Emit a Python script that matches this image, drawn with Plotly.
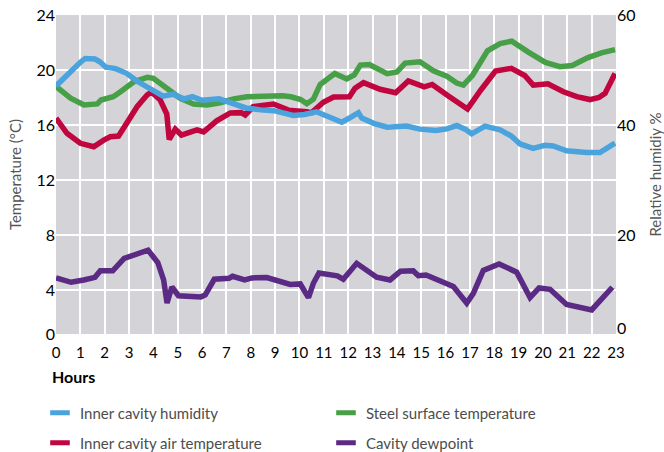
import plotly.graph_objects as go

# ---- Data ----
hum_hours = [0.0, 0.5, 1.0, 1.2, 1.6, 1.8, 2.05, 2.45, 2.9, 3.35, 3.85, 4.4, 4.8, 5.25, 5.6, 6.0,
             6.7, 7.25, 7.8, 8.4, 8.95, 9.75, 10.2, 10.7, 11.25, 11.74, 12.1, 12.42, 12.56, 13.05,
             13.6, 14.15, 14.4, 14.95, 15.6, 16.05, 16.46, 16.8, 17.07, 17.62, 18.24, 18.7, 19.06,
             19.6, 20.08, 20.42, 20.97, 21.79, 22.34, 22.96]
hum_values = [47.1, 49.4, 51.4, 52.1, 52.0, 51.5, 50.5, 50.25, 49.4, 47.9, 46.5, 45.25, 45.6, 44.75,
              45.15, 44.5, 44.75, 43.9, 43.1, 42.75, 42.6, 41.75, 41.9, 42.4, 41.25, 40.5, 41.4, 42.25,
              41.25, 40.3, 39.6, 39.6, 39.8, 39.25, 39.0, 39.3, 39.9, 39.25, 38.4, 39.8, 39.1, 38.0,
              36.55, 35.75, 36.3, 36.2, 35.3, 35.0, 35.0, 36.7]

steel_hours = [0.0, 0.6, 1.15, 1.7, 1.85, 2.35, 2.65, 3.2, 3.75, 4.0, 4.55, 5.1, 5.65, 6.2, 6.75,
               7.3, 7.85, 8.65, 9.3, 9.65, 10.05, 10.3, 10.57, 10.85, 11.45, 11.94, 12.25, 12.5,
               12.87, 13.6, 14.0, 14.34, 14.95, 15.5, 16.05, 16.46, 16.73, 17.1, 17.72, 18.24,
               18.72, 19.4, 20.1, 20.7, 21.2, 21.85, 22.4, 22.96]
steel_values = [18.8, 17.95, 17.45, 17.53, 17.82, 18.06, 18.42, 19.15, 19.47, 19.4, 18.67, 17.94,
                17.53, 17.45, 17.62, 17.9, 18.06, 18.1, 18.12, 18.05, 17.85, 17.55, 17.88, 18.95,
                19.75, 19.35, 19.64, 20.36, 20.4, 19.73, 19.85, 20.5, 20.6, 19.95, 19.55, 19.05,
                18.9, 19.6, 21.4, 21.92, 22.1, 21.3, 20.55, 20.24, 20.33, 20.9, 21.25, 21.48]

air_hours = [0.0, 0.45, 1.0, 1.55, 1.96, 2.23, 2.57, 2.92, 3.33, 3.74, 3.92, 4.28, 4.55, 4.65, 4.9,
             5.15, 5.79, 6.06, 6.6, 7.16, 7.6, 7.77, 8.1, 8.93, 9.55, 10.3, 10.5, 10.98, 11.4,
             12.05, 12.28, 12.63, 13.31, 13.95, 14.47, 15.12, 15.45, 16.1, 16.55, 16.9, 17.45,
             18.05, 18.7, 19.25, 19.6, 20.2, 20.84, 21.39, 21.93, 22.3, 22.55, 22.96]
air_values = [16.5, 15.4, 14.67, 14.42, 14.9, 15.15, 15.2, 16.12, 17.33, 18.18, 18.4, 17.82, 16.8,
              14.95, 15.7, 15.27, 15.64, 15.5, 16.3, 16.88, 16.9, 16.73, 17.33, 17.53, 17.08,
              16.97, 16.9, 17.65, 18.03, 18.06, 18.67, 19.08, 18.6, 18.35, 19.2, 18.77, 18.95,
              18.12, 17.65, 17.17, 18.55, 19.92, 20.12, 19.6, 18.9, 19.0, 18.42, 18.06, 17.85,
              18.0, 18.3, 19.74]

dew_hours = [0.0, 0.62, 1.14, 1.6, 1.82, 2.33, 2.8, 3.22, 3.78, 4.18, 4.42, 4.56, 4.76, 5.03,
             5.95, 6.13, 6.5, 7.1, 7.25, 7.75, 8.05, 8.66, 9.1, 9.62, 10.03, 10.37, 10.57, 10.8,
             11.55, 11.8, 12.35, 13.17, 13.72, 14.15, 14.67, 14.88, 15.2, 15.7, 16.32, 16.87,
             17.14, 17.55, 18.2, 18.92, 19.47, 19.84, 20.29, 20.97, 21.85, 22.0, 22.85]
dew_values = [4.88, 4.56, 4.73, 4.92, 5.4, 5.4, 6.3, 6.55, 6.9, 6.0, 4.73, 3.05, 4.22, 3.58,
              3.5, 3.64, 4.78, 4.85, 5.0, 4.73, 4.88, 4.9, 4.7, 4.4, 4.44, 3.45, 4.49, 5.24,
              5.03, 4.78, 5.94, 4.93, 4.73, 5.37, 5.4, 5.04, 5.09, 4.75, 4.25, 3.05, 3.76,
              5.42, 5.89, 5.3, 3.45, 4.15, 4.05, 2.95, 2.67, 2.55, 4.2]

hour_ticks = list(range(0, 24))
temp_tickvals = [0.8, 4, 8, 12, 16, 20, 24]
temp_ticktext = ["0", "4", "8", "12", "16", "20", "24"]
rh_tickvals = [3, 20, 40, 60]
rh_ticktext = ["0", "20", "40", "60"]

series_names = ["Inner cavity humidity", "Steel surface temperature",
                "Inner cavity air temperature", "Cavity dewpoint"]

FONT = "Lato"
BLUE = "#4AA3DD"
GREEN = "#47A047"
RED = "#C0053F"
PURPLE = "#5B2A84"
colors = [BLUE, GREEN, RED, PURPLE]
legends = ["legend", "legend", "legend2", "legend2"]

fig = go.Figure()
fig.add_trace(go.Scatter(x=hum_hours, y=hum_values, mode="lines", name=series_names[0],
                         line=dict(color=BLUE, width=5.5), yaxis="y2", showlegend=False))
fig.add_trace(go.Scatter(x=steel_hours, y=steel_values, mode="lines", name=series_names[1],
                         line=dict(color=GREEN, width=5.5), showlegend=False))
fig.add_trace(go.Scatter(x=air_hours, y=air_values, mode="lines", name=series_names[2],
                         line=dict(color=RED, width=5.5), showlegend=False))
fig.add_trace(go.Scatter(x=dew_hours, y=dew_values, mode="lines", name=series_names[3],
                         line=dict(color=PURPLE, width=5.5), showlegend=False))

# legend-only entries (short bar swatches like the reference)
for name, col, lg in zip(series_names, colors, legends):
    fig.add_trace(go.Scatter(x=[None], y=[None], mode="markers", name=name, legend=lg,
                             marker=dict(symbol="line-ew", size=14, color=col,
                                         line=dict(color=col, width=5))))

legend_common = dict(orientation="h", entrywidth=241, entrywidthmode="pixels",
                     font=dict(family=FONT, size=15, color="#4d4d4d"),
                     bgcolor="rgba(0,0,0,0)", itemwidth=30, xanchor="left", yanchor="middle")

fig.update_layout(
    width=664, height=452,
    margin=dict(l=56, r=48, t=15, b=118, autoexpand=False),
    plot_bgcolor="#D4D3D8", paper_bgcolor="white",
    font=dict(family=FONT, size=15, color="black"),
    showlegend=True,
    legend=dict(x=-0.0286, y=-0.2475, **legend_common),
    legend2=dict(x=-0.0286, y=-0.3417, **legend_common),
    xaxis=dict(range=[0, 23], tickvals=hour_ticks, showgrid=True, gridcolor="white", gridwidth=1.5,
               zeroline=False, showline=False, ticks="", ticklabelstandoff=8, automargin=False,
               tickfont=dict(family=FONT, size=15, color="black")),
    yaxis=dict(range=[0.8, 24], tickvals=temp_tickvals, ticktext=temp_ticktext, showgrid=True,
               gridcolor="white", gridwidth=1.5, zeroline=False, showline=False, ticks="",
               automargin=False,
               tickfont=dict(family=FONT, size=16, color="black"),
               title=dict(text="Temperature (°C)", font=dict(family=FONT, size=15, color="#555555"),
                          standoff=11)),
    yaxis2=dict(range=[2, 60], overlaying="y", side="right", tickvals=rh_tickvals, ticktext=rh_ticktext,
                showgrid=False, zeroline=False, showline=False, ticks="", automargin=False,
                tickfont=dict(family=FONT, size=16, color="black"),
                title=dict(text="Relative humidiy %", font=dict(family=FONT, size=15, color="#555555"),
                           standoff=16)),
    annotations=[dict(text="<b>Hours</b>", x=-0.011, y=-0.1317, xref="paper", yref="paper",
                      xanchor="left", yanchor="middle", showarrow=False,
                      font=dict(family=FONT, size=16, color="black"))],
)

fig.write_html("out.html", config={"displayModeBar": False},
               post_script="document.body.style.margin='0';document.body.style.padding='0';")
